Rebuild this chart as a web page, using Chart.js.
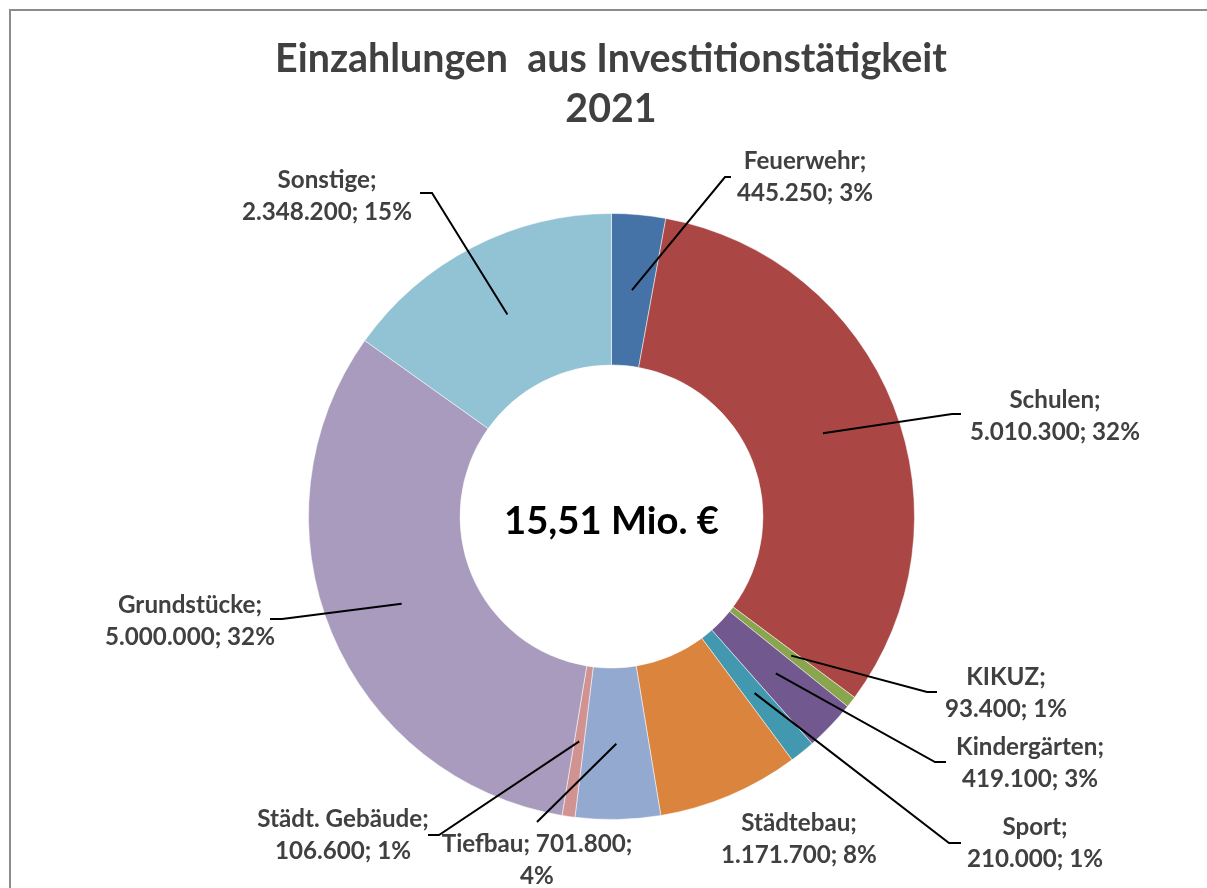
<!DOCTYPE html>
<html>
<head>
<meta charset="utf-8">
<script src="https://cdn.jsdelivr.net/npm/chart.js@4.4.0/dist/chart.umd.min.js"></script>
<style>
  html, body { margin: 0; padding: 0; background: #fff; overflow: hidden; }
  canvas { display: block; }
</style>
</head>
<body>
<canvas id="chart" width="1207" height="888"></canvas>
<script>
// ----------------- DATA -----------------
const categories = ["Feuerwehr", "Schulen", "KIKUZ", "Kindergärten", "Sport", "Städtebau",
  "Tiefbau", "Städt. Gebäude", "Grundstücke", "Sonstige"];
const values = [445250, 5010300, 93400, 419100, 210000, 1171700, 701800, 106600, 5000000, 2348200];
// percentages as printed on the labels (Excel rounds them to a 100% total)
const percentLabels = [3, 32, 1, 3, 1, 8, 4, 1, 32, 15];
const titleLines = ["Einzahlungen  aus Investitionstätigkeit", "2021"];

// ----------------- STYLE / LAYOUT -----------------
const colors = ["#4572A7", "#AA4643", "#89A54E", "#71588F", "#4198AF", "#DB843D",
  "#93A9CF", "#D19392", "#A99BBD", "#92C3D4"];
// label centre x and first baseline y
const labelPos = [[805, 169], [1055, 408], [1006, 685], [1030, 755], [1035, 835], [799, 831],
  [537, 852], [343, 827], [190, 613], [327, 188]];
// leader line bend point and end point (null = no leader)
const leaderBend = [[725, 177], [952, 414], [927, 692], [935, 762], [949, 843], null,
  [537, 822], [439, 835], [282, 619], [432, 193]];
const leaderEnd = [[731, 177], [961, 414], [937, 692], [946, 762], [961, 843], null,
  null, [428, 835], [270, 619], [420, 193]];
// where the label wraps: after the name or after the value
const labelBreak = ["name", "name", "name", "name", "name", "name", "value", "name", "name", "name"];

const FONT = "Lato, 'Open Sans', sans-serif";
const LINE_GAP = 31.5;

function fmt(n) {
  return String(n).replace(/\B(?=(\d{3})+(?!\d))/g, ".");
}

function labelLines(i) {
  const v = fmt(values[i]);
  const p = percentLabels[i] + "%";
  if (labelBreak[i] === "value") return [categories[i] + "; " + v + ";", p];
  return [categories[i] + ";", v + "; " + p];
}

// font size that makes text reach a given width
function fitSize(ctx, text, width) {
  ctx.font = "bold 100px " + FONT;
  return 100 * width / ctx.measureText(text).width;
}

const total = values.reduce((a, b) => a + b, 0);
const centerText = (total / 1e6).toFixed(2).replace(".", ",") + " Mio. €";

// ----------------- DRAWING PLUGIN -----------------
const decorations = {
  id: "decorations",
  afterDraw(chart) {
    const ctx = chart.ctx;
    ctx.save();

    // frame
    ctx.strokeStyle = "#8c8c8c";
    ctx.lineWidth = 2;
    ctx.strokeRect(10, 10, 1400, 1000);

    ctx.textAlign = "center";
    ctx.textBaseline = "alphabetic";

    // title
    const titleSize = fitSize(ctx, titleLines[0], 672);
    ctx.fillStyle = "#404040";
    ctx.font = "bold " + titleSize + "px " + FONT;
    ctx.fillText(titleLines[0], 611, 72);
    ctx.fillText(titleLines[1], 611, 122);

    // centre text
    const meta = chart.getDatasetMeta(0);
    const c = meta.data[0];
    const cSize = fitSize(ctx, centerText, 215);
    ctx.fillStyle = "#000";
    ctx.font = "bold " + cSize + "px " + FONT;
    ctx.fillText(centerText, c.x, 534);

    // leaders
    ctx.strokeStyle = "#000";
    ctx.lineWidth = 2;
    meta.data.forEach((arc, i) => {
      if (!leaderBend[i]) return;
      const a = arc.getCenterPoint();
      ctx.beginPath();
      ctx.moveTo(a.x, a.y);
      ctx.lineTo(leaderBend[i][0], leaderBend[i][1]);
      if (leaderEnd[i]) ctx.lineTo(leaderEnd[i][0], leaderEnd[i][1]);
      ctx.stroke();
    });

    // labels
    const lSize = fitSize(ctx, "5.010.300; 32%", 170);
    ctx.fillStyle = "#404040";
    ctx.font = "bold " + lSize + "px " + FONT;
    categories.forEach((_, i) => {
      const lines = labelLines(i);
      lines.forEach((t, k) => {
        ctx.fillText(t, labelPos[i][0], labelPos[i][1] + k * LINE_GAP);
      });
    });

    ctx.restore();
  }
};

// ----------------- CHART -----------------
const ctx = document.getElementById("chart").getContext("2d");
const chart = new Chart(ctx, {
  type: "doughnut",
  data: {
    labels: categories,
    datasets: [{
      data: values,
      backgroundColor: colors,
      borderColor: "rgba(255,255,255,0.5)",
      borderWidth: 1,
    }]
  },
  options: {
    responsive: false,
    animation: false,
    cutout: "50%",
    layout: { padding: { left: 308, right: 292, top: 213, bottom: 68 } },
    plugins: {
      legend: { display: false },
      tooltip: { enabled: false },
      title: { display: false },
    },
  },
  plugins: [decorations],
});
</script>
</body>
</html>
